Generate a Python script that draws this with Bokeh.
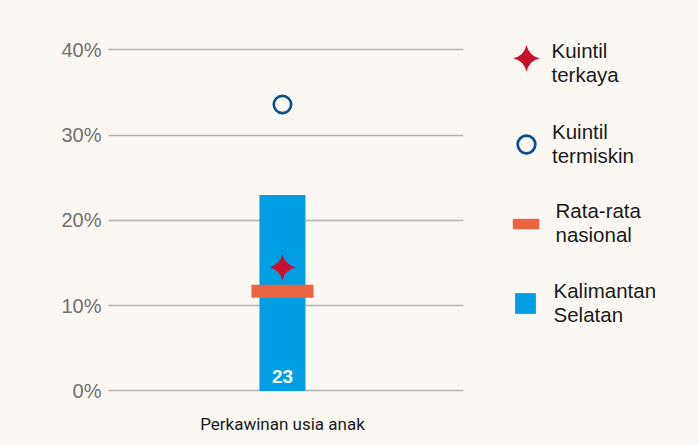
import math
from bokeh.plotting import figure
from bokeh.models import Range1d, FixedTicker, Legend, LegendItem, ColumnDataSource
from bokeh.core.properties import value
from bokeh.embed import file_html
from bokeh.resources import INLINE

# ---- data ----
categories = ["Perkawinan usia anak"]
provinsi_vals = [23]          # Kalimantan Selatan (%)
nasional_vals = [11.7]        # Rata-rata nasional (%)
terkaya_vals = [14.5]         # Kuintil terkaya (%)
termiskin_vals = [33.6]       # Kuintil termiskin (%)
y_ticks = [0, 10, 20, 30, 40]
y_tick_labels = ["0%", "10%", "20%", "30%", "40%"]

BG = "#FBF8F4"
BLUE = "#009FE3"
ORANGE = "#EC6341"
RED = "#C8102E"
NAVY = "#0A4F8C"
GRID = "#B3B3B3"
FONT = "Liberation Sans"
STAR_SIZE = 19

xs = list(range(len(categories)))
src = ColumnDataSource(dict(
    x=xs, prov=provinsi_vals, nat=nasional_vals, rich=terkaya_vals,
    poor=termiskin_vals, lab=[str(v) for v in provinsi_vals],
    lab_y=[0 for _ in provinsi_vals],
))

# ---- layout ----
W, H = 690, 436
ML, MT, MB = 108, 28, 41
FRAME_W, FRAME_H = W - ML, H - MT - MB
PX_PER_CAT = 355          # width of the category band (grid length)

p = figure(width=W, height=H, output_backend="svg", toolbar_location=None,
           x_range=Range1d(-0.49, -0.49 + FRAME_W / PX_PER_CAT),
           y_range=Range1d(-0.303, 42.52),
           min_border_left=ML, min_border_right=0, min_border_top=MT,
           min_border_bottom=MB)
p.background_fill_color = BG
p.border_fill_color = BG
p.outline_line_color = None
p.xgrid.grid_line_color = None
p.ygrid.grid_line_color = None
# pixel space of the frame, used only for the legend key of the star
p.extra_x_ranges["legend"] = Range1d(0, FRAME_W)
p.extra_y_ranges["legend"] = Range1d(0, FRAME_H)

# y axis: long inward ticks act as grid lines that stop at the category band
p.yaxis.ticker = FixedTicker(ticks=y_ticks)
p.yaxis.major_label_overrides = {t: l for t, l in zip(y_ticks, y_tick_labels)}
p.yaxis.axis_line_color = None
p.yaxis.major_tick_in = PX_PER_CAT
p.yaxis.major_tick_out = 0
p.yaxis.major_tick_line_color = GRID
p.yaxis.major_tick_line_width = 1.6
p.yaxis.minor_tick_line_color = None
p.yaxis.major_label_standoff = 7
p.yaxis.major_label_text_font = FONT
p.yaxis.major_label_text_font_size = "20px"
p.yaxis.major_label_text_color = "#707070"

p.xaxis.ticker = FixedTicker(ticks=xs)
p.xaxis.major_label_overrides = {x: c for x, c in zip(xs, categories)}
p.xaxis.axis_line_color = None
p.xaxis.major_tick_line_color = None
p.xaxis.minor_tick_line_color = None
p.xaxis.major_label_standoff = 14
p.xaxis.major_label_text_font = "Roboto"
p.xaxis.major_label_text_font_size = "17px"
p.xaxis.major_label_text_color = "#1a1a1a"

# ---- glyphs (drawn above the tick "grid") ----
bar = p.vbar(x="x", top="prov", width=46 / PX_PER_CAT, bottom=0, source=src,
             fill_color=BLUE, line_color=None, level="overlay")
nat = p.rect(x="x", y="nat", width=62 / PX_PER_CAT, height=13, height_units="screen",
             source=src, fill_color=ORANGE, line_color=None, level="overlay")
rich = p.scatter(x="x", y="rich", marker="square_pin", size=STAR_SIZE, angle=math.pi / 4,
                 source=src, fill_color=RED, line_color=None, level="overlay")
poor = p.scatter(x="x", y="poor", marker="circle", size=17.3, source=src,
                 fill_color=None, line_color=NAVY, line_width=2.7, level="overlay")
p.text(x="x", y="lab_y", text="lab", source=src, text_color="white",
       text_font=value(FONT), text_font_style="bold", text_font_size="19px",
       text_align="center", text_baseline="alphabetic", y_offset=-14.5,
       level="overlay")

# ---- legends (one per entry so each key keeps its own size) ----
LABEL_H = 56

def add_legend(renderer, label, gw, gh, x_loc, center_y, standoff):
    y_loc = FRAME_H - (center_y - MT) - LABEL_H / 2
    lg = Legend(items=[LegendItem(label=label, renderers=[renderer])],
                location=(x_loc, y_loc), glyph_width=gw, glyph_height=gh,
                label_standoff=standoff, label_height=LABEL_H,
                padding=0, margin=0, spacing=0,
                border_line_color=None, background_fill_alpha=0,
                label_text_font=FONT, label_text_font_size="20.5px",
                label_text_color="#1a1a1a", label_text_line_height=1.0)
    p.add_layout(lg, "center")
    return y_loc

# star: Bokeh legends do not rotate markers, so its key is drawn separately
star_y_loc = add_legend(rich, "Kuintil\nterkaya", 1, 1, 417.5, 64.5, 25)
p.scatter(x=[417.5 + 0.5], y=[star_y_loc + LABEL_H / 2 + 6.5],
          x_range_name="legend", y_range_name="legend",
          marker="square_pin", size=STAR_SIZE, angle=math.pi / 4,
          fill_color=RED, line_color=None)
add_legend(poor, "Kuintil\ntermiskin", 44, 44, 396, 145.5, 4)
add_legend(nat, "Rata-rata\nnasional", 33, 13, 400.5, 225, 14)
add_legend(bar, "Kalimantan\nSelatan", 26, 26, 403.5, 304.5, 16)

html = file_html(p, INLINE)
html = html.replace("<head>", "<head><style>body{background-color:%s;}</style>" % BG, 1)
open("out.html", "w").write(html)
